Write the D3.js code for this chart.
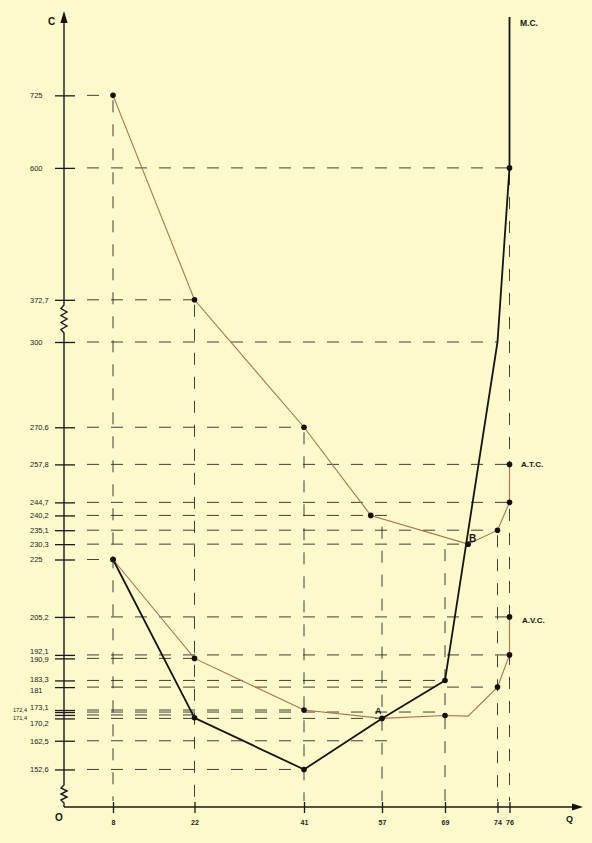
<!DOCTYPE html>
<html>
<head>
<meta charset="utf-8">
<script src="https://cdn.jsdelivr.net/npm/d3@7"></script>
<style>
  body { margin: 0; background: #fcf9ca; }
  svg { display: block; }
</style>
</head>
<body>
<div id="chart"></div>
<script>
// output ticks on the Q axis
const qTicks = [8, 22, 41, 57, 69, 74, 76];
// cost ticks on the C axis (broken axis, two scales)
const cTicks = [725, 600, 372.7, 300, 270.6, 257.8, 244.7, 240.2, 235.1, 230.3, 225,
    205.2, 192.1, 190.9, 183.3, 181, 173.1, 172.4, 171.4, 170.2, 162.5, 152.6];
// how far (in Q) each horizontal guide runs
const cGuideQ = [8, 76, 22, 74, 41, 76, 76, 58, 74, 71.2, 8,
    76, 76, 22, 69, 74, 41, 69, 22, 57, 59, 41];
// how high (in C) each vertical guide runs
const qGuideTop = [725, 372.7, 270.6, 238, 230.3, 235.1, 600];

// average total cost
const atcQ = [8, 22, 41, 54.7, 71.2, 74, 76, 76];
const atcC = [725, 372.7, 270.6, 240.2, 230.3, 235.1, 244.7, 257.8];
// average variable cost
const avcQ = [8, 22, 41, 57, 69, 71.2, 74, 76, 76];
const avcC = [225, 190.9, 173.1, 170.2, 171.2, 171.0, 181, 192.1, 205.2];
// marginal cost
const mcQ = [8, 22, 41, 57, 69, 74, 76];
const mcC = [225, 170.4, 152.6, 170.2, 183.3, 300, 600];
// points that are only bends of the line (no dot)
const noDot = { avc: [3, 5], mc: [5] };

const width = 592, height = 843;

// hand drawn scales: piecewise linear
const x = d3.scaleLinear()
    .domain([0, 8, 22, 41, 57, 69, 74, 76])
    .range([64, 113, 194.5, 304, 382, 445, 497.5, 509.5]);
const y = d3.scaleLinear()
    .domain([0, 145, 300, 860])
    .range([807, 791.5, 342, 17]);

const x0 = x(0), y0 = y(0);
const fmt = v => String(v).replace(".", ",");

const svg = d3.select("#chart").append("svg")
    .attr("width", width)
    .attr("height", height)
    .style("font-family", "'Liberation Sans', Arial, sans-serif");

svg.append("rect").attr("width", width).attr("height", height).attr("fill", "#fcf9ca");

// dashed guides
const guides = svg.append("g")
    .attr("stroke", "#2b2b2b")
    .attr("stroke-width", 0.9)
    .attr("fill", "none");

guides.selectAll(".hg")
    .data(cTicks)
    .enter().append("line")
    .attr("class", "hg")
    .attr("x1", x0 + 11)
    .attr("x2", (d, i) => x(cGuideQ[i]))
    .attr("y1", d => y(d))
    .attr("y2", d => y(d))
    .attr("stroke-dasharray", "12 12")
    .attr("stroke-dashoffset", 12);

guides.selectAll(".vg")
    .data(qTicks)
    .enter().append("line")
    .attr("class", "vg")
    .attr("x1", d => x(d))
    .attr("x2", d => x(d))
    .attr("y1", (d, i) => y(qGuideTop[i]) + 5)
    .attr("y2", y0 - 6)
    .attr("stroke-dasharray", "12 12");

// y axis
const yAxis = d3.axisLeft(y).tickValues(cTicks).tickSize(0).tickFormat(fmt);
const gy = svg.append("g")
    .attr("transform", `translate(${x0},0)`)
    .call(yAxis);
gy.select(".domain").remove();
gy.attr("font-family", null).attr("font-size", null);
gy.selectAll(".tick line")
    .attr("x1", -9).attr("x2", 11)
    .attr("stroke", "#1a1a1a").attr("stroke-width", 1.3);

// crowded labels get a small nudge
const nudge = { 192.1: -4, 190.9: 1, 183.3: -1, 181: 2.5, 173.1: -2.5, 172.4: -2, 171.4: 2.5, 170.2: 4.5 };
const squeezed = [172.4, 171.4];
gy.selectAll(".tick text")
    .attr("x", d => squeezed.includes(d) ? -37 : -34)
    .attr("y", d => nudge[d] || 0)
    .attr("text-anchor", d => squeezed.includes(d) ? "end" : "start")
    .attr("font-size", d => squeezed.includes(d) ? 5.6 : 7.5)
    .attr("fill", "#222");

// axis line with zigzag breaks
function zigzag(yTop, yBot, n) {
    const pts = [[x0, yBot]];
    const step = (yBot - yTop) / (n * 2);
    for (let k = 1; k < n * 2; k++) {
        pts.push([x0 + (k % 2 ? -3 : 3), yBot - k * step]);
    }
    pts.push([x0, yTop]);
    return pts;
}
const axisLine = d3.line();
const axisG = svg.append("g").attr("stroke", "#1a1a1a").attr("fill", "none");
axisG.append("path").attr("stroke-width", 1.4)
    .attr("d", axisLine([[x0, y0], [x0, 803]].concat(zigzag(785, 803, 3))
        .concat([[x0, 785], [x0, 333]]).concat(zigzag(305, 333, 4)).concat([[x0, 305], [x0, 20]])));
axisG.append("path").attr("stroke-width", 1.4)
    .attr("d", axisLine([[x0, y0], [574, y0]]));
svg.append("path").attr("fill", "#111").attr("d", `M${x0},11 L${x0 - 3.6},23 L${x0 + 3.6},23 Z`);
svg.append("path").attr("fill", "#111").attr("d", `M583,${y0} L572,${y0 - 3.6} L572,${y0 + 3.6} Z`);

// x axis ticks
const xAxis = d3.axisBottom(x).tickValues(qTicks).tickSize(0).tickFormat(d3.format("d"));
const gx = svg.append("g")
    .attr("transform", `translate(0,${y0})`)
    .call(xAxis);
gx.select(".domain").remove();
gx.attr("font-family", null).attr("font-size", null);
gx.selectAll(".tick line")
    .attr("y1", -5).attr("y2", 6)
    .attr("stroke", "#1a1a1a").attr("stroke-width", 1.3);
gx.selectAll(".tick text")
    .attr("y", 18).attr("dy", null)
    .attr("font-size", 7).attr("font-weight", "bold").attr("fill", "#222");

// curves
const line = d3.line().x(d => x(d[0])).y(d => y(d[1]));
const atc = atcQ.map((q, i) => [q, atcC[i]]);
const avc = avcQ.map((q, i) => [q, avcC[i]]);
const mc = mcQ.map((q, i) => [q, mcC[i]]);

svg.append("path").datum(atc).attr("d", line)
    .attr("fill", "none").attr("stroke", "#b0704f").attr("stroke-width", 1.1);
svg.append("path").datum(avc).attr("d", line)
    .attr("fill", "none").attr("stroke", "#b0704f").attr("stroke-width", 1.1);
// marginal cost turns vertical at capacity
svg.append("path").datum(mc.concat([[76, y.domain()[3]]])).attr("d", line)
    .attr("fill", "none").attr("stroke", "#141414").attr("stroke-width", 1.8)
    .attr("stroke-linejoin", "round");

// dots
const dots = atc
    .concat(avc.filter((d, i) => !noDot.avc.includes(i)))
    .concat(mc.filter((d, i) => !noDot.mc.includes(i)));
svg.append("g").selectAll("circle")
    .data(dots)
    .enter().append("circle")
    .attr("cx", d => x(d[0]))
    .attr("cy", d => y(d[1]))
    .attr("r", 2.8)
    .attr("fill", "#111");

// labels
const labels = [
    { t: "C", x: 48, y: 25, s: 10 },
    { t: "O", x: 55, y: 821, s: 10 },
    { t: "Q", x: 566, y: 822, s: 9 },
    { t: "M.C.", x: 520, y: 26, s: 8.5 },
    { t: "A.T.C.", x: 521, y: 467, s: 8 },
    { t: "A.V.C.", x: 522, y: 623, s: 8 },
    { t: "B", x: 469, y: 542, s: 10 },
    { t: "A", x: 375, y: 714, s: 9 }
];
svg.append("g").selectAll("text")
    .data(labels)
    .enter().append("text")
    .attr("x", d => d.x)
    .attr("y", d => d.y)
    .attr("font-size", d => d.s)
    .attr("font-weight", "bold")
    .attr("fill", "#151515")
    .text(d => d.t);
</script>
</body>
</html>
